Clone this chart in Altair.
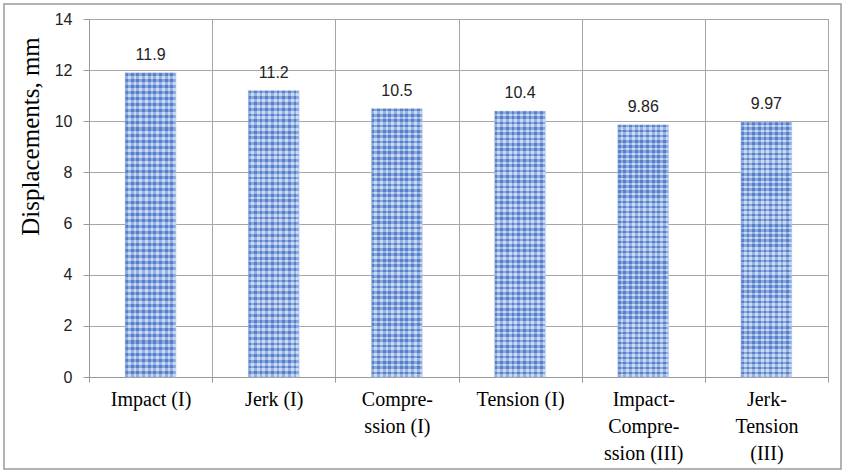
import altair as alt
import pandas as pd

# Peak displacement for each loading case
categories = [
    "Impact (I)",
    "Jerk (I)",
    "Compre-\nssion (I)",
    "Tension (I)",
    "Impact-\nCompre-\nssion (III)",
    "Jerk-\nTension\n(III)",
]
displacements = [11.9, 11.2, 10.5, 10.4, 9.86, 9.97]

df = pd.DataFrame({"case": categories, "disp": displacements})


def stripes(n, c1, c2, across):
    """Linear gradient with hard-edged alternating bands."""
    stops = []
    for i in range(n):
        a, m, b = i / n, (i + 0.5) / n, (i + 1) / n
        stops += [
            {"offset": a, "color": c1},
            {"offset": m, "color": c1},
            {"offset": m, "color": c2},
            {"offset": b, "color": c2},
        ]
    return {
        "gradient": "linear",
        "x1": 0,
        "y1": 0,
        "x2": 1 if across else 0,
        "y2": 0 if across else 1,
        "stops": stops,
    }


x_enc = alt.X(
    "case:N",
    sort=categories,
    title=None,
    scale=alt.Scale(paddingInner=0, paddingOuter=0),
    axis=alt.Axis(
        labelExpr="split(datum.label, '\\n')",
        labelAngle=0,
        labelFont="Liberation Serif",
        labelFontSize=20,
        labelColor="#000000",
        labelLineHeight=27,
        labelPadding=7,
        labelBaseline="top",
        tickBand="extent",
        tickSize=5,
        tickColor="#999999",
        grid=True,
        gridColor="#a6a6a6",
        domainColor="#999999",
    ),
)

y_enc = alt.Y(
    "disp:Q",
    scale=alt.Scale(domain=[0, 14], nice=False),
    axis=alt.Axis(
        values=[0, 2, 4, 6, 8, 10, 12, 14],
        title="Displacements, mm",
        titleFont="Liberation Serif",
        titleFontSize=25,
        titleFontWeight="normal",
        titleColor="#000000",
        titleAngle=-90,
        titleX=-59,
        titleY=117,
        titleAlign="center",
        titleBaseline="middle",
        labelFont="Liberation Sans",
        labelFontSize=16,
        labelColor="#222222",
        labelPadding=11,
        tickSize=6,
        tickColor="#999999",
        gridColor="#a6a6a6",
        domainColor="#999999",
    ),
)

base = alt.Chart(df).encode(x=x_enc, y=y_enc)

# Crosshatch fill: vertical bands underneath, horizontal bands on top
bars_cols = base.mark_bar(
    size=51,
    color=stripes(9, "#5f88d1", "#b0c6ee", True),
)
bars_rows = base.mark_bar(
    size=51,
    opacity=0.35,
    color=stripes(50, "#4672c2", "#ffffff", False),
    stroke="#c5d4f0",
    strokeWidth=1,
)

labels = base.mark_text(
    font="Liberation Sans",
    fontSize=16,
    color="#222222",
    baseline="middle",
    dy=-18,
).encode(text=alt.Text("disp:Q", format=".3g"))

frame = (
    alt.Chart(pd.DataFrame({"k": [0]}))
    .mark_rect(fillOpacity=0, stroke="#9a9a9a", strokeWidth=1.5)
    .encode(
        x=alt.value(-85),
        x2=alt.value(752),
        y=alt.value(-15),
        y2=alt.value(450),
    )
)

chart = (
    alt.layer(bars_cols, bars_rows, labels, frame)
    .properties(
        width=739,
        height=358,
        autosize=alt.AutoSizeParams(type="none"),
        padding={"left": 89, "top": 19, "right": 16, "bottom": 95},
        background="#ffffff",
    )
    .configure_view(stroke="#9a9a9a", strokeWidth=1)
)

chart.save("out.html", embed_options={"renderer": "svg", "actions": False})
